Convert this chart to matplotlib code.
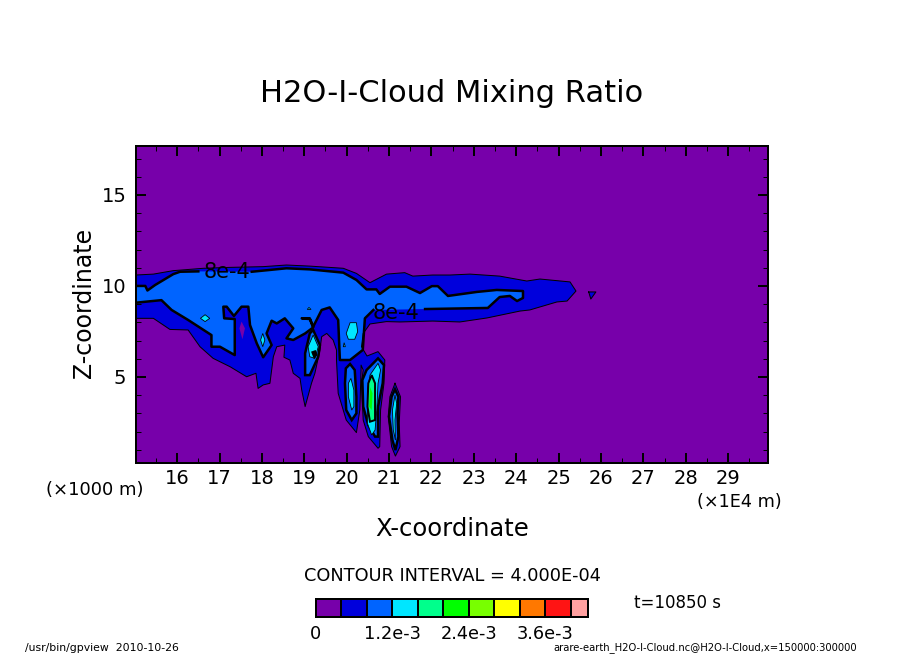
import numpy as np
import matplotlib
matplotlib.use("Agg")
import matplotlib.pyplot as plt
from matplotlib.colors import ListedColormap

# contour outlines, x in 1E4 m, z in km
x_outer = [15.03, 15.44, 15.91, 16.62, 17.25, 18.03, 18.58, 19.13, 19.92, 20.23, 20.55, 20.94, 21.37, 21.56, 22.03,
           22.44, 22.91, 23.61, 24.25, 24.56, 25.27, 25.41, 25.20, 24.96, 24.32, 24.09, 23.31, 22.67, 22.03, 21.26,
           20.94, 20.55, 20.39, 20.35, 20.48, 20.74, 20.90, 20.88, 20.80, 20.78, 20.74, 20.51, 20.39, 20.35, 20.39,
           20.34, 20.34, 20.31, 20.23, 19.99, 19.80, 19.76, 19.76, 19.68, 19.53, 19.41, 19.37, 19.25, 19.17, 19.02,
           18.94, 18.90, 18.74, 18.66, 18.52, 18.54, 18.35, 18.27, 18.19, 18.03, 17.91, 17.86, 17.64, 17.25, 16.85,
           16.54, 16.26, 15.83, 15.44, 15.03]
z_outer = [10.60, 10.65, 10.84, 10.97, 11.02, 11.06, 11.15, 11.09, 10.97, 10.69, 10.18, 10.65, 10.73, 10.54, 10.60,
           10.60, 10.65, 10.54, 10.27, 10.38, 10.22, 9.72, 9.17, 9.12, 8.68, 8.62, 8.24, 8.02, 8.07, 8.02,
           8.04, 7.91, 7.39, 6.66, 6.15, 6.39, 5.93, 4.65, 3.18, 1.17, 1.08, 1.72, 2.63, 4.65, 5.38,
           5.65, 5.38, 3.18, 1.94, 2.63, 4.10, 5.93, 6.48, 7.03, 7.39, 7.21, 6.48, 5.20, 4.65, 3.37,
           4.28, 4.92, 5.20, 5.93, 6.08, 6.75, 6.66, 6.11, 4.65, 4.56, 4.37, 5.20, 5.01, 5.56, 6.02,
           6.66, 7.58, 7.61, 8.22, 8.22]

# the 8e-4 contour comes in three pieces, it is broken where the labels sit
x_mid_a = [15.03, 15.25, 15.30, 15.48, 15.91, 16.07, 16.50]
z_mid_a = [10.00, 10.00, 9.75, 10.05, 10.65, 10.78, 10.80]
x_mid_b = [17.76, 18.58, 19.13, 19.92, 20.23, 20.47, 20.70, 20.78, 21.02, 21.41, 21.73, 22.01, 22.15, 22.39, 23.07,
           23.54, 24.16, 24.16, 24.02, 23.85, 23.61, 23.33, 21.85]
z_mid_b = [10.78, 10.97, 10.91, 10.73, 10.33, 9.81, 9.81, 9.56, 9.96, 9.96, 9.61, 9.99, 9.99, 9.45, 9.67,
           9.78, 9.72, 9.34, 9.17, 9.45, 9.39, 8.79, 8.73]
x_mid_c = [20.63, 20.43, 20.38, 20.08, 19.84, 19.80, 19.60, 19.41, 19.21, 19.13, 18.94, 19.13, 19.21, 19.02, 18.74,
           18.58, 18.74, 18.54, 18.35, 18.23, 18.11, 18.23, 18.03, 17.88, 17.72, 17.68, 17.52, 17.34, 17.17, 17.09,
           17.11, 17.36, 17.36, 17.01, 16.81, 16.81, 16.26, 15.87, 15.63, 15.03]
z_mid_c = [8.68, 8.22, 6.48, 5.93, 5.93, 8.13, 8.82, 8.68, 7.76, 8.22, 8.22, 8.18, 7.72, 7.39, 7.03,
           7.12, 7.67, 8.22, 7.94, 8.09, 7.39, 6.75, 6.08, 6.84, 7.85, 8.86, 8.86, 8.35, 8.86, 8.86,
           8.22, 8.18, 6.20, 6.66, 6.66, 7.30, 8.13, 8.68, 9.22, 9.08]

# separate cells
x_lobe4 = [21.14, 21.27, 21.24, 21.26, 21.15, 21.06, 20.98, 21.02]
z_lobe4 = [4.65, 3.91, 2.45, 1.17, 0.65, 1.17, 2.82, 3.91]
x_tri = [25.71, 25.88, 25.76]
z_tri = [9.67, 9.67, 9.28]
x_hole = [17.52, 17.60, 17.54, 17.47]
z_hole = [8.04, 7.67, 7.07, 7.67]

x_mid_cell1 = [19.21, 19.37, 19.33, 19.13, 19.02, 19.02, 19.13]
z_mid_cell1 = [7.58, 6.75, 6.11, 5.10, 5.10, 6.30, 7.39]
x_mid_cell2 = [20.08, 20.19, 20.23, 20.23, 20.12, 19.99, 19.96, 19.98]
z_mid_cell2 = [5.71, 5.38, 3.91, 3.00, 2.63, 3.18, 4.65, 5.47]
x_mid_cell3 = [20.74, 20.88, 20.85, 20.74, 20.74, 20.67, 20.51, 20.39, 20.37, 20.47]
z_mid_cell3 = [6.02, 5.65, 4.65, 3.37, 1.72, 1.72, 2.36, 3.37, 4.83, 5.38]
x_mid_cell4 = [21.14, 21.22, 21.20, 21.22, 21.15, 21.08, 21.00, 21.06]
z_mid_cell4 = [4.32, 3.91, 3.00, 1.72, 0.98, 1.53, 2.82, 3.91]

x_cyan1 = [16.55, 16.66, 16.77, 16.66]
z_cyan1 = [8.22, 8.42, 8.22, 8.04]
x_cyan2 = [17.97, 18.02, 18.07, 18.02]
z_cyan2 = [7.03, 7.39, 7.03, 6.66]
x_cyan3 = [19.99, 20.08, 20.23, 20.26, 20.19, 20.04]
z_cyan3 = [7.39, 7.98, 7.98, 7.49, 7.07, 7.07]
x_cyan4 = [19.94, 19.97, 19.92]
z_cyan4 = [6.88, 6.66, 6.66]
x_cyan5 = [19.11, 19.16, 19.07]
z_cyan5 = [8.82, 8.71, 8.71]
x_cyan6 = [19.21, 19.33, 19.25, 19.13, 19.09]
z_cyan6 = [7.30, 6.66, 6.02, 6.11, 6.66]
x_cyan7 = [20.10, 20.17, 20.17, 20.12, 20.04, 20.04]
z_cyan7 = [4.92, 4.28, 3.37, 3.18, 3.91, 4.65]
x_cyan8 = [20.74, 20.80, 20.74, 20.71, 20.67, 20.59, 20.49, 20.49, 20.55]
z_cyan8 = [5.75, 5.38, 4.65, 3.18, 2.08, 1.81, 2.45, 4.28, 5.10]
x_cyan9 = [21.14, 21.18, 21.14, 21.15, 21.10, 21.08]
z_cyan9 = [4.00, 3.55, 2.63, 1.53, 2.08, 3.18]

x_teal = [20.59, 20.67, 20.67, 20.55, 20.49, 20.51]
z_teal = [5.10, 4.65, 2.63, 2.54, 3.37, 4.65]
x_green = [20.55, 20.61, 20.59, 20.53]
z_green = [4.46, 4.10, 3.18, 3.37]
x_dark = [19.16, 19.27, 19.31, 19.23]
z_dark = [6.39, 6.48, 6.20, 5.97]

levels = [0, 4e-4, 8e-4, 1.2e-3, 1.6e-3, 2.0e-3, 2.4e-3, 2.8e-3, 3.2e-3, 3.6e-3, 4.0e-3, 4.27e-3]
level_colors = ["#7700aa", "#0000dc", "#0064ff", "#00e6ff", "#00ff8c", "#00ff00",
                "#78ff00", "#ffff00", "#ff7800", "#ff1414", "#ffa0a0"]
bar_ticks = [0, 1.2e-3, 2.4e-3, 3.6e-3]
bar_ticklabels = ["0", "1.2e-3", "2.4e-3", "3.6e-3"]

W, H = 904, 654


def box(left, top, right, bottom):
    return [left / W, 1 - bottom / H, (right - left) / W, (bottom - top) / H]


def px_text(x, y, s, **kw):
    fig.text(x / W, 1 - y / H, s, ha=kw.pop("ha", "center"), va=kw.pop("va", "center"), **kw)


PX = 0.72  # one pixel in points at dpi 100

fig = plt.figure(figsize=(W / 100, H / 100), dpi=100)
ax = fig.add_axes(box(136, 146, 768, 463))
ax.set_facecolor(level_colors[0])
ax.set_xlim(15.03, 29.94)
ax.set_ylim(0.27, 17.69)

# filled bands
ax.fill(x_outer, z_outer, color=level_colors[1], lw=0)
ax.fill(x_lobe4, z_lobe4, color=level_colors[1], lw=0)
ax.fill(x_tri, z_tri, color=level_colors[1], lw=0)
ax.fill(x_hole, z_hole, color=level_colors[0], lw=0)
ax.fill(x_mid_a + x_mid_b + x_mid_c, z_mid_a + z_mid_b + z_mid_c, color=level_colors[2], lw=0)
for xs, zs in [(x_mid_cell1, z_mid_cell1), (x_mid_cell2, z_mid_cell2), (x_mid_cell3, z_mid_cell3), (x_mid_cell4, z_mid_cell4)]:
    ax.fill(xs, zs, color=level_colors[2], ec="k", lw=2.5 * PX)
for xs, zs in [(x_cyan1, z_cyan1), (x_cyan2, z_cyan2), (x_cyan3, z_cyan3), (x_cyan4, z_cyan4), (x_cyan5, z_cyan5),
               (x_cyan6, z_cyan6), (x_cyan7, z_cyan7), (x_cyan8, z_cyan8), (x_cyan9, z_cyan9)]:
    ax.fill(xs, zs, color=level_colors[3], ec="k", lw=0.8 * PX)
ax.fill(x_teal, z_teal, color=level_colors[4], ec="k", lw=2 * PX)
ax.fill(x_green, z_green, color=level_colors[5], lw=0)
ax.fill(x_dark, z_dark, color="k", lw=0)

# contour lines
ax.plot(x_outer, z_outer, color="k", lw=1 * PX)
ax.plot(x_lobe4 + x_lobe4[:1], z_lobe4 + z_lobe4[:1], color="k", lw=1 * PX)
ax.plot(x_tri + x_tri[:1], z_tri + z_tri[:1], color="k", lw=1 * PX)
ax.plot(x_mid_a, z_mid_a, color="k", lw=2.5 * PX)
ax.plot(x_mid_b, z_mid_b, color="k", lw=2.5 * PX)
ax.plot(x_mid_c, z_mid_c, color="k", lw=2.5 * PX)
ax.text(17.18, 10.76, "8e-4", fontsize=15, ha="center", va="center", color="k")
ax.text(21.17, 8.51, "8e-4", fontsize=15, ha="center", va="center", color="k")

# frame and ticks
for sp in ax.spines.values():
    sp.set_linewidth(2 * PX)
ax.set_xticks(np.arange(16, 30))
ax.set_xticks(np.arange(15.5, 30, 1), minor=True)
ax.set_yticks([5, 10, 15])
ax.set_yticks(np.arange(1, 18), minor=True)
ax.tick_params(which="major", direction="in", top=True, right=True, length=10 * PX, width=2 * PX, labelsize=14)
ax.tick_params(axis="x", which="major", pad=4)
ax.tick_params(axis="y", which="major", pad=7)
ax.tick_params(which="minor", direction="in", top=True, right=True, length=5 * PX, width=1 * PX)

px_text(452, 93, "H2O-I-Cloud Mixing Ratio", fontsize=22)
px_text(452, 529, "X-coordinate", fontsize=17.5)
px_text(84, 303, "Z-coordinate", fontsize=17, rotation=90)
px_text(95, 490, "(×1000 m)", fontsize=13)
px_text(739, 502, "(×1E4 m)", fontsize=12.7)
px_text(452, 576, "CONTOUR INTERVAL = 4.000E-04", fontsize=12.8)
px_text(678, 603, "t=10850 s", fontsize=12)
px_text(25, 648, "/usr/bin/gpview  2010-10-26", fontsize=7.8, ha="left")
px_text(857, 648, "arare-earth_H2O-I-Cloud.nc@H2O-I-Cloud,x=150000:300000", fontsize=7.2, ha="right")

# colour bar
cax = fig.add_axes(box(316, 599, 588, 617))
cax.pcolormesh(levels, [0, 1], np.array([levels[:-1]]), cmap=ListedColormap(level_colors),
               vmin=-2e-4, vmax=4.2e-3, edgecolors="k", linewidth=2 * PX)
cax.set_xlim(levels[0], levels[-1])
cax.set_yticks([])
cax.set_xticks(bar_ticks)
cax.set_xticklabels(bar_ticklabels, fontsize=12.8)
cax.tick_params(length=0, pad=6)
for sp in cax.spines.values():
    sp.set_linewidth(2 * PX)

fig.savefig("out.png", dpi=100)
